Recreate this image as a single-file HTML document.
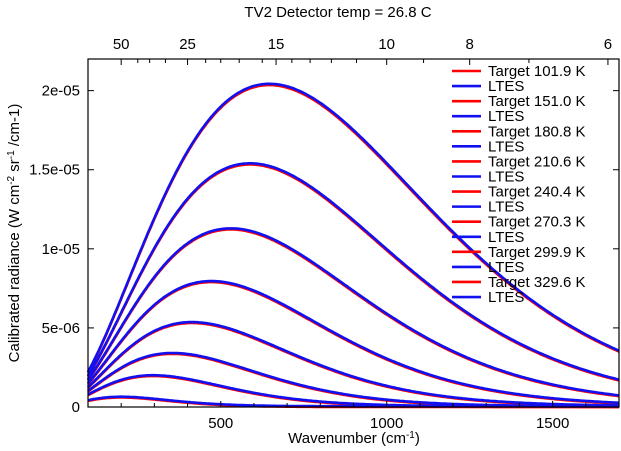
<!DOCTYPE html>
<html><head><meta charset="utf-8"><style>
body{margin:0;background:#fff}
svg{display:block;font-family:"Liberation Sans",Arial,sans-serif}
</style></head><body>
<svg id="chart" width="621" height="451" viewBox="0 0 621 451" xmlns="http://www.w3.org/2000/svg">
<text x="338" y="17" font-size="15" text-anchor="middle">TV2 Detector temp = 26.8 C</text>
<g id="plot"></g>
</svg>
<script>
const targetTemps=[101.9,151.0,180.8,210.6,240.4,270.3,299.9,329.6];
const ltesTemps=[102.1,151.2,181.0,210.8,240.6,270.5,300.1,329.8];
const xTicks=[500,1000,1500];
const yTicks=[0,5e-6,1e-5,1.5e-5,2e-5];
const yTickLabels=["0","5e-06","1e-05","1.5e-05","2e-05"];
const topTicks=[50,25,15,10,8,6];
const topMinor=[40,35,30,22,20,18,16,14,13,12,11,9,7];
const NS="http://www.w3.org/2000/svg";
const L=88,R=619,T=59,B=407,X0=100,X1=1700,Y1=2.2e-5;
const FS=15;
const sx=v=>L+(v-X0)/(X1-X0)*(R-L);
const sy=v=>B-v/Y1*(B-T);
const svg=document.getElementById('plot');
function el(tag,attrs,txt){const e=document.createElementNS(NS,tag);for(const k in attrs)e.setAttribute(k,attrs[k]);if(txt!==undefined)e.textContent=txt;svg.appendChild(e);return e;}
function planck(nu,t){return 1.191e-12*nu*nu*nu/(Math.exp(1.4388*nu/t)-1);}
function path(t){let d="";for(let nu=X0;nu<=X1;nu+=5){d+=(nu===X0?"M":"L")+sx(nu).toFixed(1)+","+sy(planck(nu,t)).toFixed(1);}return d;}
targetTemps.forEach((t,i)=>{
 const p=el('path',{d:path(t),fill:'none',stroke:'#f00','stroke-width':2.6});
 
 
});
ltesTemps.forEach((t,i)=>{
 const p=el('path',{d:path(t),fill:'none',stroke:'#1010f0','stroke-width':2.6,transform:'translate(0,-0.7)'});
 
 
});
const frame=el('rect',{x:L,y:T,width:R-L,height:B-T,fill:'none',stroke:'#000','stroke-width':1.2});


for(let v=X0;v<=X1;v+=100){if(v===X0||v===X1)continue;const big=v%500===0;el('line',{x1:sx(v),x2:sx(v),y1:B,y2:B-(big?6:4),stroke:'#000'});}
xTicks.forEach(v=>{const t=el('text',{x:sx(v),y:B+21,'font-size':FS,'text-anchor':'middle'},String(v));});
yTicks.forEach((v,i)=>{el('line',{x1:L,x2:L+6,y1:sy(v),y2:sy(v),stroke:'#000'});el('line',{x1:R,x2:R-6,y1:sy(v),y2:sy(v),stroke:'#000'});const t=el('text',{x:L-8,y:sy(v)+5,'font-size':FS,'text-anchor':'end'},yTickLabels[i]);});
topTicks.forEach(w=>{const x=sx(10000/w);el('line',{x1:x,x2:x,y1:T,y2:T+6,stroke:'#000'});const t=el('text',{x:x,y:T-10,'font-size':FS,'text-anchor':'middle'},String(w));});
topMinor.forEach(w=>{const x=sx(10000/w);el('line',{x1:x,x2:x,y1:T,y2:T+4,stroke:'#000'});});
const xl=el('text',{x:354,y:443,'font-size':FS,'text-anchor':'middle'});xl.innerHTML='Wavenumber (cm<tspan dy="-5" font-size="10">-1</tspan><tspan dy="5">)</tspan>';

const yl=el('text',{x:0,y:0,'font-size':FS,'text-anchor':'middle',transform:'translate(19,233) rotate(-90)'});yl.innerHTML='Calibrated radiance (W cm<tspan dy="-5" font-size="10">-2</tspan><tspan dy="5"> sr</tspan><tspan dy="-5" font-size="10">-1</tspan><tspan dy="5"> /cm-1)</tspan>';

targetTemps.forEach((t,i)=>{
 const y1=71+i*2*15.07,y2=y1+15.07;
 el('line',{x1:452,x2:481,y1:y1,y2:y1,stroke:'#f00','stroke-width':2.6});
 const a=el('text',{x:488,y:y1+5,'font-size':FS},'Target '+t.toFixed(1)+' K');
 
 el('line',{x1:452,x2:481,y1:y2,y2:y2,stroke:'#1010f0','stroke-width':2.6});
 const b=el('text',{x:488,y:y2+5,'font-size':FS},'LTES');
 
});
</script>
</body></html>
